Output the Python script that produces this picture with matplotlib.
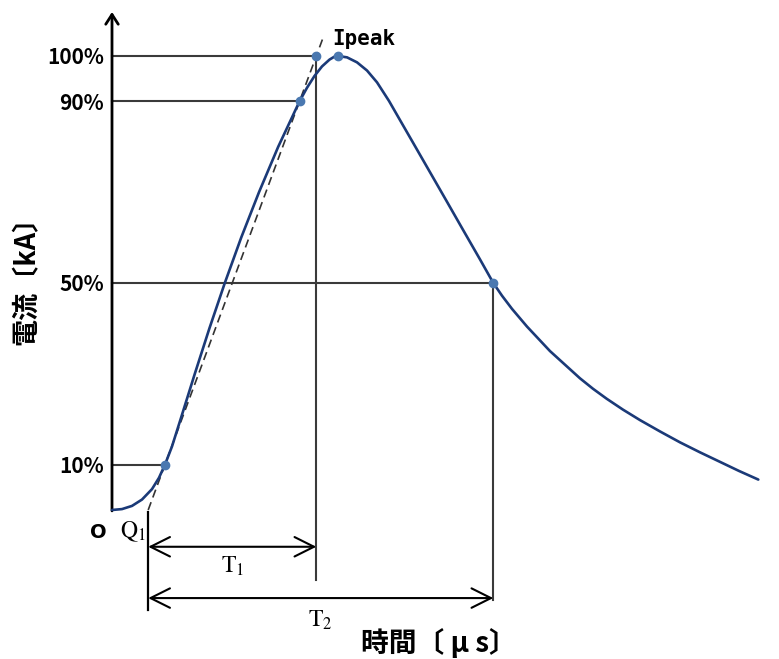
import matplotlib
matplotlib.use("Agg")
import matplotlib.pyplot as plt

# Impulse current waveform, read as (time, percent of peak)
rise_t = [0.0, 1.0, 2.0, 3.0, 4.0, 4.7, 5.3, 6.0, 6.86, 8.28, 9.74, 11.28,
          12.92, 14.70, 16.62, 18.75, 19.5, 20.25, 21.0, 21.75, 22.2]
rise_pct = [0.0, 0.2, 0.9, 2.3, 4.6, 7.1, 10.0, 14.0, 20.0, 30.0, 40.0, 50.0,
            60.0, 70.0, 80.0, 90.0, 93.0, 95.6, 97.7, 99.2, 99.8]
fall_t = [22.57, 23.5, 24.5, 25.5, 26.5, 27.7, 28.9, 30.13, 31.8, 33.47, 35.13,
          36.8, 38.13, 39.0, 40.0, 41.5, 43.8, 46.8, 48.1, 49.47, 51.1, 52.8,
          54.8, 56.8, 58.8, 60.8, 62.7, 64.63]
fall_pct = [100.0, 99.7, 98.6, 96.8, 94.2, 90.1, 85.5, 80.8, 74.4, 68.0, 61.6,
            55.2, 50.0, 47.2, 44.3, 40.4, 35.0, 29.0, 26.7, 24.5, 22.1, 19.8,
            17.3, 14.9, 12.7, 10.6, 8.6, 6.7]

# Characteristic points on the waveform
t_10, t_90, t_peak, t_50 = 5.3, 18.75, 22.57, 38.13
level_pct = [100, 90, 50, 10]
level_labels = ["100%", "90%", "50%", "10%"]

CJK = ["Noto Sans CJK JP", "DejaVu Sans"]
plt.rcParams["mathtext.fontset"] = "stix"

fig = plt.figure(figsize=(7.79, 6.59), dpi=100)
ax = fig.add_axes([0, 0, 1, 1])
ax.set_xlim(-11.2, 66.7)
ax.set_ylim(-32.82, 112.33)
ax.axis("off")

curve_col = "#1b3a78"
dot_col = "#4a78b0"
guide_col = "#3a3a3a"

# Front line through the 10% and 90% points
slope = (90 - 10) / (t_90 - t_10)
t_q1 = t_10 - 10 / slope
t_100 = t_10 + 90 / slope
t_top = t_10 + 94 / slope
ax.plot([t_q1, t_top], [0, 104], ls=(0, (5, 3)), color="#333333", lw=1.2, zorder=3)

# Guide lines from the vertical axis to each level
level_t = {100: t_100, 90: t_90, 50: t_50, 10: t_10}
for p in level_pct:
    ax.plot([0, level_t[p]], [p, p], color=guide_col, lw=1.5, zorder=2)

# Vertical drop lines
ax.plot([t_100, t_100], [100, -15.4], color=guide_col, lw=1.5, zorder=2)
ax.plot([t_50, t_50], [50, -19.8], color=guide_col, lw=1.5, zorder=2)
ax.plot([t_q1, t_q1], [-0.4, -22.0], color="black", lw=1.6, zorder=2)

# Axes with arrow heads
ax.annotate("", xy=(0, 109.7), xytext=(0, -0.2),
            arrowprops=dict(arrowstyle="->,head_length=0.7,head_width=0.45",
                            lw=2, color="black", shrinkA=0, shrinkB=0))
ax.annotate("", xy=(67.6, 0), xytext=(-0.1, 0),
            arrowprops=dict(arrowstyle="->,head_length=0.7,head_width=0.45",
                            lw=2, color="black", shrinkA=0, shrinkB=0))

# Waveform
ax.plot(rise_t + fall_t, rise_pct + fall_pct, color=curve_col, lw=1.9, zorder=4,
        solid_joinstyle="round", solid_capstyle="round")

# Marked points
ax.plot([t_10, t_90, t_100, t_peak, t_50], [10, 90, 100, 100, 50], "o",
        color=dot_col, ms=6, zorder=5)

# T1 / T2 dimension arrows
dim = dict(arrowstyle="<->,head_length=1.4,head_width=0.7", lw=1.5,
           color="black", shrinkA=0, shrinkB=0)
ax.annotate("", xy=(t_100, -8.1), xytext=(t_q1, -8.1), arrowprops=dim)
ax.annotate("", xy=(t_50, -19.4), xytext=(t_q1, -19.4), arrowprops=dim)

# Level labels
for p, lab in zip(level_pct, level_labels):
    ax.text(-0.8, p - 0.4, lab, ha="right", va="center", fontsize=15,
            fontweight="bold", family=CJK)

ax.text(t_peak - 0.5, 102.4, "Ipeak", ha="left", va="baseline", fontsize=15,
        fontweight="bold", family="DejaVu Sans Mono")
ax.text(-1.4, -4.85, "O", ha="center", va="center", fontsize=14,
        fontweight="bold", family="DejaVu Sans")
ax.text(0.8, -4.85, r"$\mathrm{Q}_1$", ha="left", va="center", fontsize=17)
ax.text(12.1, -12.3, r"$\mathrm{T}_1$", ha="center", va="center", fontsize=17)
ax.text(20.8, -24.3, r"$\mathrm{T}_2$", ha="center", va="center", fontsize=17)

ax.text(32.7, -29.2, "時間〔 μ s〕", ha="center", va="center", fontsize=20,
        fontweight="bold", family=CJK)
ax.text(-8.5, 52.0, "電流〔kA〕", ha="center", va="center", rotation=90,
        fontsize=19.5, fontweight="bold", family=CJK)

fig.savefig("out.png", dpi=100)
